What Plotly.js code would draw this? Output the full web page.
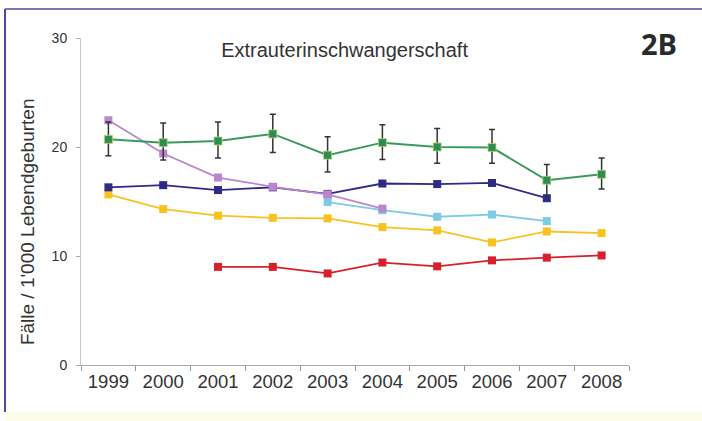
<!DOCTYPE html>
<html>
<head>
<meta charset="utf-8">
<script src="https://cdn.plot.ly/plotly-3.0.1.min.js"></script>
<style>
  html, body { margin: 0; padding: 0; background: #ffffff; }
  #chart { width: 702px; height: 421px; }
</style>
</head>
<body>
<div id="chart"></div>
<script>
// ---- data ----
const years = ["1999", "2000", "2001", "2002", "2003", "2004", "2005", "2006", "2007", "2008"];

const greenVals    = [20.7, 20.4, 20.55, 21.2, 19.25, 20.4, 20.0, 19.95, 16.95, 17.5];
const greenErrPlus = [1.6, 1.8, 1.75, 1.8, 1.7, 1.65, 1.7, 1.65, 1.45, 1.5];
const greenErrMinus= [1.5, 1.6, 1.55, 1.7, 1.55, 1.55, 1.5, 1.45, 1.45, 1.35];
const navyVals     = [16.3, 16.5, 16.05, 16.3, 15.7, 16.65, 16.6, 16.7, 15.3, null];
const violetVals   = [22.45, 19.4, 17.2, 16.35, 15.65, 14.35, null, null, null, null];
const lightBlueVals= [null, null, null, null, 14.95, 14.2, 13.6, 13.8, 13.2, null];
const yellowVals   = [15.65, 14.3, 13.7, 13.5, 13.45, 12.65, 12.35, 11.25, 12.25, 12.1];
const redVals      = [null, null, 9.0, 9.0, 8.4, 9.4, 9.05, 9.6, 9.85, 10.05];

const titleText = "Extrauterinschwangerschaft";
const yTitleText = "Fälle / 1'000 Lebendgeburten";
const panelLabel = "2B";

// ---- styling ----
const FONT = "'Liberation Sans', Arial, Helvetica, sans-serif";

function series(vals, color, extra) {
  return Object.assign({
    type: "scatter", mode: "lines+markers", x: years, y: vals,
    line: { color: color, width: 1.8 },
    marker: { symbol: "square", size: 8, color: color },
    connectgaps: false, hoverinfo: "skip", showlegend: false, cliponaxis: false
  }, extra || {});
}

const traces = [
  series(redVals, "#d7202c"),
  series(yellowVals, "#f8c320"),
  series(lightBlueVals, "#7fcbe2"),
  series(navyVals, "#2f2a86"),
  series(violetVals, "#bb86cc"),
  series(greenVals, "#2f9160", {
    line: { color: "#3a9a5e", width: 2 },
    marker: { symbol: "square", size: 8, color: "#2e8b5c", line: { color: "#b9d65a", width: 0.8 } },
    error_y: {
      type: "data", symmetric: false,
      array: greenErrPlus, arrayminus: greenErrMinus,
      color: "#333333", thickness: 1.5, width: 3
    }
  })
];

const layout = {
  width: 702, height: 421,
  margin: { l: 81, r: 73, t: 38, b: 56 },
  paper_bgcolor: "#ffffff", plot_bgcolor: "#ffffff",
  font: { family: FONT, color: "#333333" },
  title: {
    text: titleText,
    font: { size: 20, color: "#333333", family: FONT },
    xref: "paper", x: 0.481, xanchor: "center",
    yref: "container", y: 0.882, yanchor: "middle"
  },
  xaxis: {
    type: "category", range: [-0.5, 9.5],
    tickson: "boundaries", ticks: "outside", ticklen: 5, tickcolor: "#999999", tickwidth: 1,
    showline: true, linecolor: "#aaaaaa", linewidth: 1,
    showgrid: false, zeroline: false,
    tickfont: { size: 18.5, color: "#333333", family: FONT }
  },
  yaxis: {
    range: [0, 30], dtick: 10, tick0: 0,
    ticks: "outside", ticklen: 4, tickcolor: "#aaaaaa",
    showline: true, linecolor: "#c8c8c8", linewidth: 1,
    showgrid: false, zeroline: false,
    tickfont: { size: 14, color: "#333333", family: FONT },
    ticklabelstandoff: 6
  },
  annotations: [
    {
      text: yTitleText, xref: "paper", yref: "paper",
      x: -0.0985, y: 0.437, xanchor: "center", yanchor: "middle",
      textangle: -90, showarrow: false,
      font: { size: 19, color: "#333333", family: FONT }
    },
    {
      text: "<b>" + panelLabel + "</b>", xref: "paper", yref: "paper",
      x: 1.055, y: 0.982, xanchor: "center", yanchor: "middle", showarrow: false,
      font: { size: 29, color: "#2a2a2a", family: "'Open Sans', sans-serif" }
    }
  ],
  shapes: [
    { type: "rect", xref: "paper", yref: "paper", x0: -0.1387, x1: 1.14, y0: -0.1437, y1: -0.18,
      fillcolor: "#fdfbea", line: { width: 0 }, layer: "below" },
    { type: "line", xref: "paper", yref: "paper", x0: -0.1387, x1: 1.14, y0: 1.0887, y1: 1.0887,
      line: { color: "#4d4a9c", width: 1.5 } },
    { type: "line", xref: "paper", yref: "paper", x0: -0.1387, x1: -0.1387, y0: 1.0887, y1: -0.1437,
      line: { color: "#4d4a9c", width: 2 } }
  ]
};

Plotly.newPlot("chart", traces, layout, { staticPlot: true, displayModeBar: false });
</script>
</body>
</html>
